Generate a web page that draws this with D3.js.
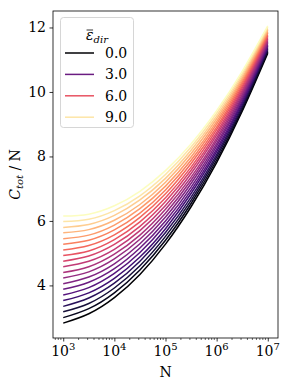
<!DOCTYPE html>
<html><head><meta charset="utf-8">
<script src="https://cdn.jsdelivr.net/npm/d3@7"></script>
<style>body{margin:0;background:#fff} text{font-family:"DejaVu Serif",serif;fill:#000}</style>
</head><body><script>
// ---- data ----
const nValues = [1000, 3162, 10000, 31623, 100000, 316228, 1000000, 3162278, 10000000];
const epsDir = [0,0.5,1,1.5,2,2.5,3,3.5,4,4.5,5,5.5,6,6.5,7,7.5,8,8.5,9,9.5];
const ctotOverN = [
 [2.83,3.12,3.62,4.34,5.28,6.44,7.81,9.40,11.20],
 [3.00,3.28,3.77,4.48,5.40,6.54,7.89,9.46,11.25],
 [3.18,3.44,3.92,4.61,5.52,6.64,7.98,9.53,11.29],
 [3.35,3.61,4.07,4.75,5.64,6.74,8.06,9.59,11.34],
 [3.53,3.77,4.22,4.88,5.76,6.85,8.15,9.66,11.38],
 [3.70,3.93,4.37,5.02,5.88,6.95,8.23,9.72,11.43],
 [3.88,4.10,4.52,5.16,6.00,7.05,8.32,9.79,11.47],
 [4.05,4.26,4.67,5.29,6.12,7.16,8.40,9.85,11.51],
 [4.23,4.42,4.82,5.43,6.24,7.26,8.49,9.92,11.56],
 [4.40,4.58,4.97,5.56,6.36,7.36,8.57,9.99,11.60],
 [4.58,4.75,5.12,5.70,6.48,7.47,8.66,10.05,11.65],
 [4.75,4.91,5.27,5.83,6.60,7.57,8.74,10.12,11.69],
 [4.93,5.07,5.42,5.97,6.72,7.67,8.83,10.18,11.74],
 [5.10,5.24,5.57,6.11,6.84,7.78,8.91,10.25,11.78],
 [5.28,5.40,5.72,6.24,6.96,7.88,9.00,10.31,11.83],
 [5.45,5.56,5.87,6.38,7.08,7.98,9.08,10.38,11.87],
 [5.63,5.73,6.02,6.51,7.20,8.09,9.17,10.44,11.92],
 [5.80,5.89,6.17,6.65,7.32,8.19,9.25,10.51,11.96],
 [5.98,6.05,6.32,6.78,7.44,8.29,9.34,10.57,12.01],
 [6.15,6.21,6.47,6.92,7.56,8.39,9.42,10.64,12.05]
];
const legendEps = [0, 3, 6, 9];
const legendLabels = ["0.0", "3.0", "6.0", "9.0"];
const yTicks = [4, 6, 8, 10, 12];
const xTickExps = [3, 4, 5, 6, 7];

// ---- layout ----
const W = 287, H = 386;
const mLeft = 53, mRight = 278, mTop = 11, mBottom = 338;
const svg = d3.select("body").append("svg").attr("width", W).attr("height", H);

const x = d3.scaleLog().domain([Math.pow(10,2.8), Math.pow(10,7.2)]).range([mLeft, mRight]);
const y = d3.scaleLinear().domain([2.369, 12.511]).range([mBottom, mTop]);
const color = i => d3.interpolateMagma(i / (epsDir.length - 1));

const line = d3.line().x((d,i) => x(nValues[i])).y(d => y(d)).curve(d3.curveNatural);

svg.append("defs").append("clipPath").attr("id","clip")
  .append("rect").attr("x", mLeft).attr("y", mTop).attr("width", mRight-mLeft).attr("height", mBottom-mTop);

const g = svg.append("g").attr("clip-path","url(#clip)");
ctotOverN.forEach((row, i) => {
  g.append("path").attr("d", line(row)).attr("fill","none")
    .attr("stroke", color(i)).attr("stroke-width", 1.5);
});

// axes
const fs = 14;
const yAxis = d3.axisLeft(y).tickValues(yTicks).tickSize(3.5).tickPadding(3.5).tickFormat(d3.format("d"));
const ya = svg.append("g").attr("transform", `translate(${mLeft},0)`).call(yAxis);
ya.select(".domain").remove();
ya.selectAll("line").attr("stroke","#000").attr("stroke-width",0.8);
ya.selectAll("text").attr("font-size", fs).attr("font-family","DejaVu Serif");

const xAxis = d3.axisBottom(x).tickValues(xTickExps.map(e => Math.pow(10,e))).tickSize(3.5).tickPadding(3.5).tickFormat("");
const xa = svg.append("g").attr("transform", `translate(0,${mBottom})`).call(xAxis);
xa.select(".domain").remove();
xa.selectAll("line").attr("stroke","#000").attr("stroke-width",0.8);
// minor ticks
const minor = [];
for (let e = 2; e <= 7; e++) for (let m = 2; m <= 9; m++) {
  const v = m * Math.pow(10, e);
  if (v > x.domain()[0] && v < x.domain()[1]) minor.push(v);
}
svg.append("g").selectAll("line").data(minor).join("line")
  .attr("x1", d => x(d)).attr("x2", d => x(d)).attr("y1", mBottom).attr("y2", mBottom + 2)
  .attr("stroke","#000").attr("stroke-width",0.6);
// x tick labels 10^k
xTickExps.forEach(e => {
  const t = svg.append("text").attr("x", x(Math.pow(10,e))).attr("y", 356)
    .attr("text-anchor","middle").attr("font-size", fs);
  t.append("tspan").text("10");
  t.append("tspan").attr("dy", -6).attr("font-size", 10).text(String(e));
});

// spines
svg.append("rect").attr("x", mLeft).attr("y", mTop).attr("width", mRight-mLeft).attr("height", mBottom-mTop)
  .attr("fill","none").attr("stroke","#000").attr("stroke-width",0.8);

// axis labels
svg.append("text").attr("x", (mLeft+mRight)/2).attr("y", 377).attr("text-anchor","middle")
  .attr("font-size", fs).text("N");
const yl = svg.append("text").attr("transform", `translate(20,${(mTop+mBottom)/2}) rotate(-90)`)
  .attr("text-anchor","middle").attr("font-size", fs);
yl.append("tspan").attr("font-style","italic").text("C");
yl.append("tspan").attr("font-style","italic").attr("font-size", 10).attr("dy", 3).text("tot");
yl.append("tspan").attr("dy", -3).text(" / N");

// legend
const lg = svg.append("g");
lg.append("rect").attr("x", 60.5).attr("y", 17.5).attr("width", 73).attr("height", 110)
  .attr("rx", 3).attr("fill","#fff").attr("fill-opacity",0.8).attr("stroke","#ccc").attr("stroke-width",0.8);
const title = lg.append("text").attr("x", 97).attr("y", 40).attr("text-anchor","middle").attr("font-size", fs);
title.append("tspan").attr("font-style","italic").text("ε");
title.append("tspan").attr("font-style","italic").attr("font-size", 10).attr("dy", 3).text("dir");
const ext = title.node().getExtentOfChar(0);
lg.append("line").attr("x1", ext.x + 0.5).attr("x2", ext.x + ext.width - 0.5)
  .attr("y1", ext.y + 3).attr("y2", ext.y + 3).attr("stroke","#000").attr("stroke-width",0.8);
legendEps.forEach((ev, k) => {
  const i = epsDir.indexOf(ev);
  const yy = 53 + k * 21.4;
  lg.append("line").attr("x1", 65).attr("x2", 94).attr("y1", yy).attr("y2", yy)
    .attr("stroke", color(i)).attr("stroke-width", 1.5);
  lg.append("text").attr("x", 105).attr("y", yy + 5).attr("font-size", fs).text(legendLabels[k]);
});
</script></body></html>
